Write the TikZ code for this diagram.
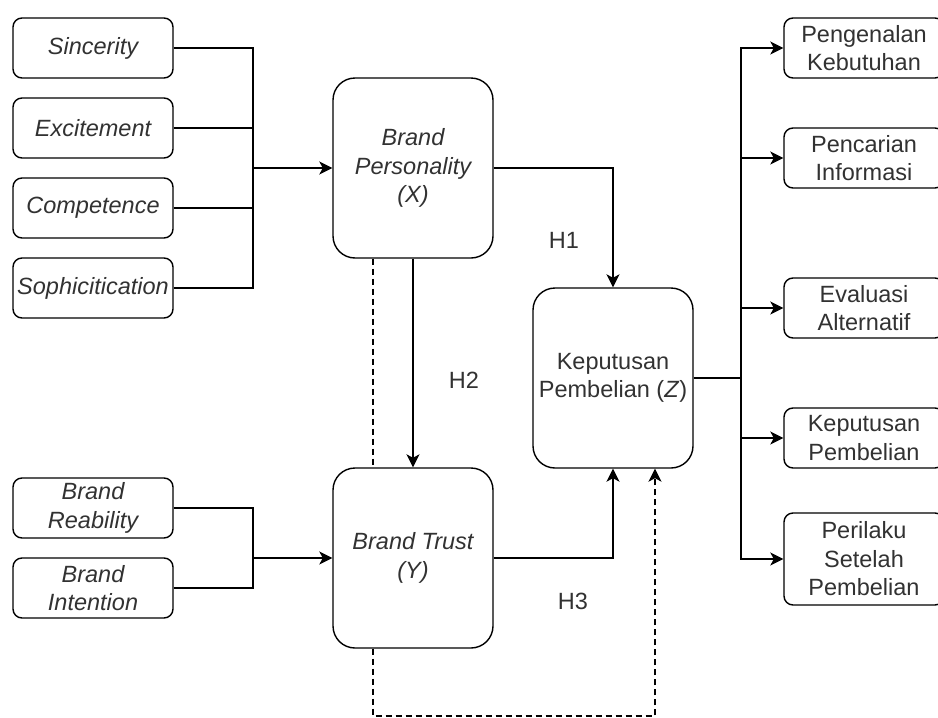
\documentclass[tikz,border=0pt]{standalone}
\usepackage{fontspec}
\setmainfont{Liberation Sans}
\usetikzlibrary{arrows.meta}
\definecolor{txt}{RGB}{50,50,50}
\begin{document}
\begin{tikzpicture}[x=1pt,y=-1pt,
  every node/.style={text=txt, font=\fontsize{23.5}{28.5}\selectfont, align=center, inner sep=0pt},
  sbox/.style={draw=black, line width=1.4pt, rounded corners=9pt, minimum width=160pt, minimum height=60pt},
  bbox/.style={draw=black, line width=1.4pt, rounded corners=22pt, minimum width=160pt, minimum height=180pt},
  ln/.style={draw=black, line width=1.5pt},
  arr/.style={ln, -{Stealth[length=13pt,width=13pt,inset=3.5pt]}},
  dsh/.style={ln, line width=1.2pt, dash pattern=on 6pt off 4pt},
  lbl/.style={text=txt}
]
\useasboundingbox (0,0) rectangle (938,718);
\clip (0,0) rectangle (938,718);
\fill[white] (0,0) rectangle (938,718);

% left inputs
\node[sbox] (sinc) at (93,48) {\itshape Sincerity};
\node[sbox] (exci) at (93,128) {\itshape Excitement};
\node[sbox] (comp) at (93,208) {\itshape Competence};
\node[sbox] (soph) at (93,288) {\itshape Sophicitication};
\node[sbox] (rea) at (93,508) {\itshape Brand\\\itshape Reability};
\node[sbox] (inte) at (93,588) {\itshape Brand\\\itshape Intention};

% main constructs
\node[bbox] (bp) at (413,168) {\itshape Brand\\\itshape Personality\\\itshape (X)};
\node[bbox] (bt) at (413,558) {\itshape Brand Trust\\\itshape (Y)};
\node[bbox] (z) at (613,378) {Keputusan\\Pembelian (\textit{Z})};

% right outputs
\node[sbox] (peng) at (864,48) {Pengenalan\\Kebutuhan};
\node[sbox] (penc) at (864,158) {Pencarian\\Informasi};
\node[sbox] (eval) at (864,308) {Evaluasi\\Alternatif};
\node[sbox] (kep) at (864,438) {Keputusan\\Pembelian};
\node[sbox, minimum height=92pt] (peri) at (864,559) {Perilaku\\Setelah\\Pembelian};

% labels
\node[lbl] (h1) at (564,240) {H1};
\node[lbl] (h2) at (464,380) {H2};
\node[lbl] (h3) at (573,601) {H3};

% coordinates
\coordinate (b1) at (253,168);
\coordinate (b2) at (253,558);
\coordinate (r0) at (741,378);
\coordinate (dz) at (655,716);

% left bus 1
\draw[ln] (sinc.east) -| (b1);
\draw[ln] (exci.east) -| (b1);
\draw[ln] (comp.east) -| (b1);
\draw[ln] (soph.east) -| (b1);
\draw[arr] (b1) -- (bp.west);

% left bus 2
\draw[ln] (rea.east) -| (b2);
\draw[ln] (inte.east) -| (b2);
\draw[arr] (b2) -- (bt.west);

% hypotheses
\draw[arr] (bp.east) -| (z.north);
\draw[arr] (bp.south) -- (bt.north);
\draw[arr] (bt.east) -| (z.south);

% dashed
\draw[dsh] ([xshift=-40pt]bp.south) -- ([xshift=-40pt]bt.north);
\draw[dsh, -{Stealth[length=13pt,width=13pt,inset=3.5pt]}] ([xshift=-40pt]bt.south) |- (dz) -- ([xshift=42pt]z.south);

% right bus
\draw[ln] (z.east) -- (r0);
\draw[arr] (r0) |- (peng.west);
\draw[arr] (r0) |- (penc.west);
\draw[arr] (r0) |- (eval.west);
\draw[arr] (r0) |- (kep.west);
\draw[arr] (r0) |- (peri.west);
\end{tikzpicture}
\end{document}
